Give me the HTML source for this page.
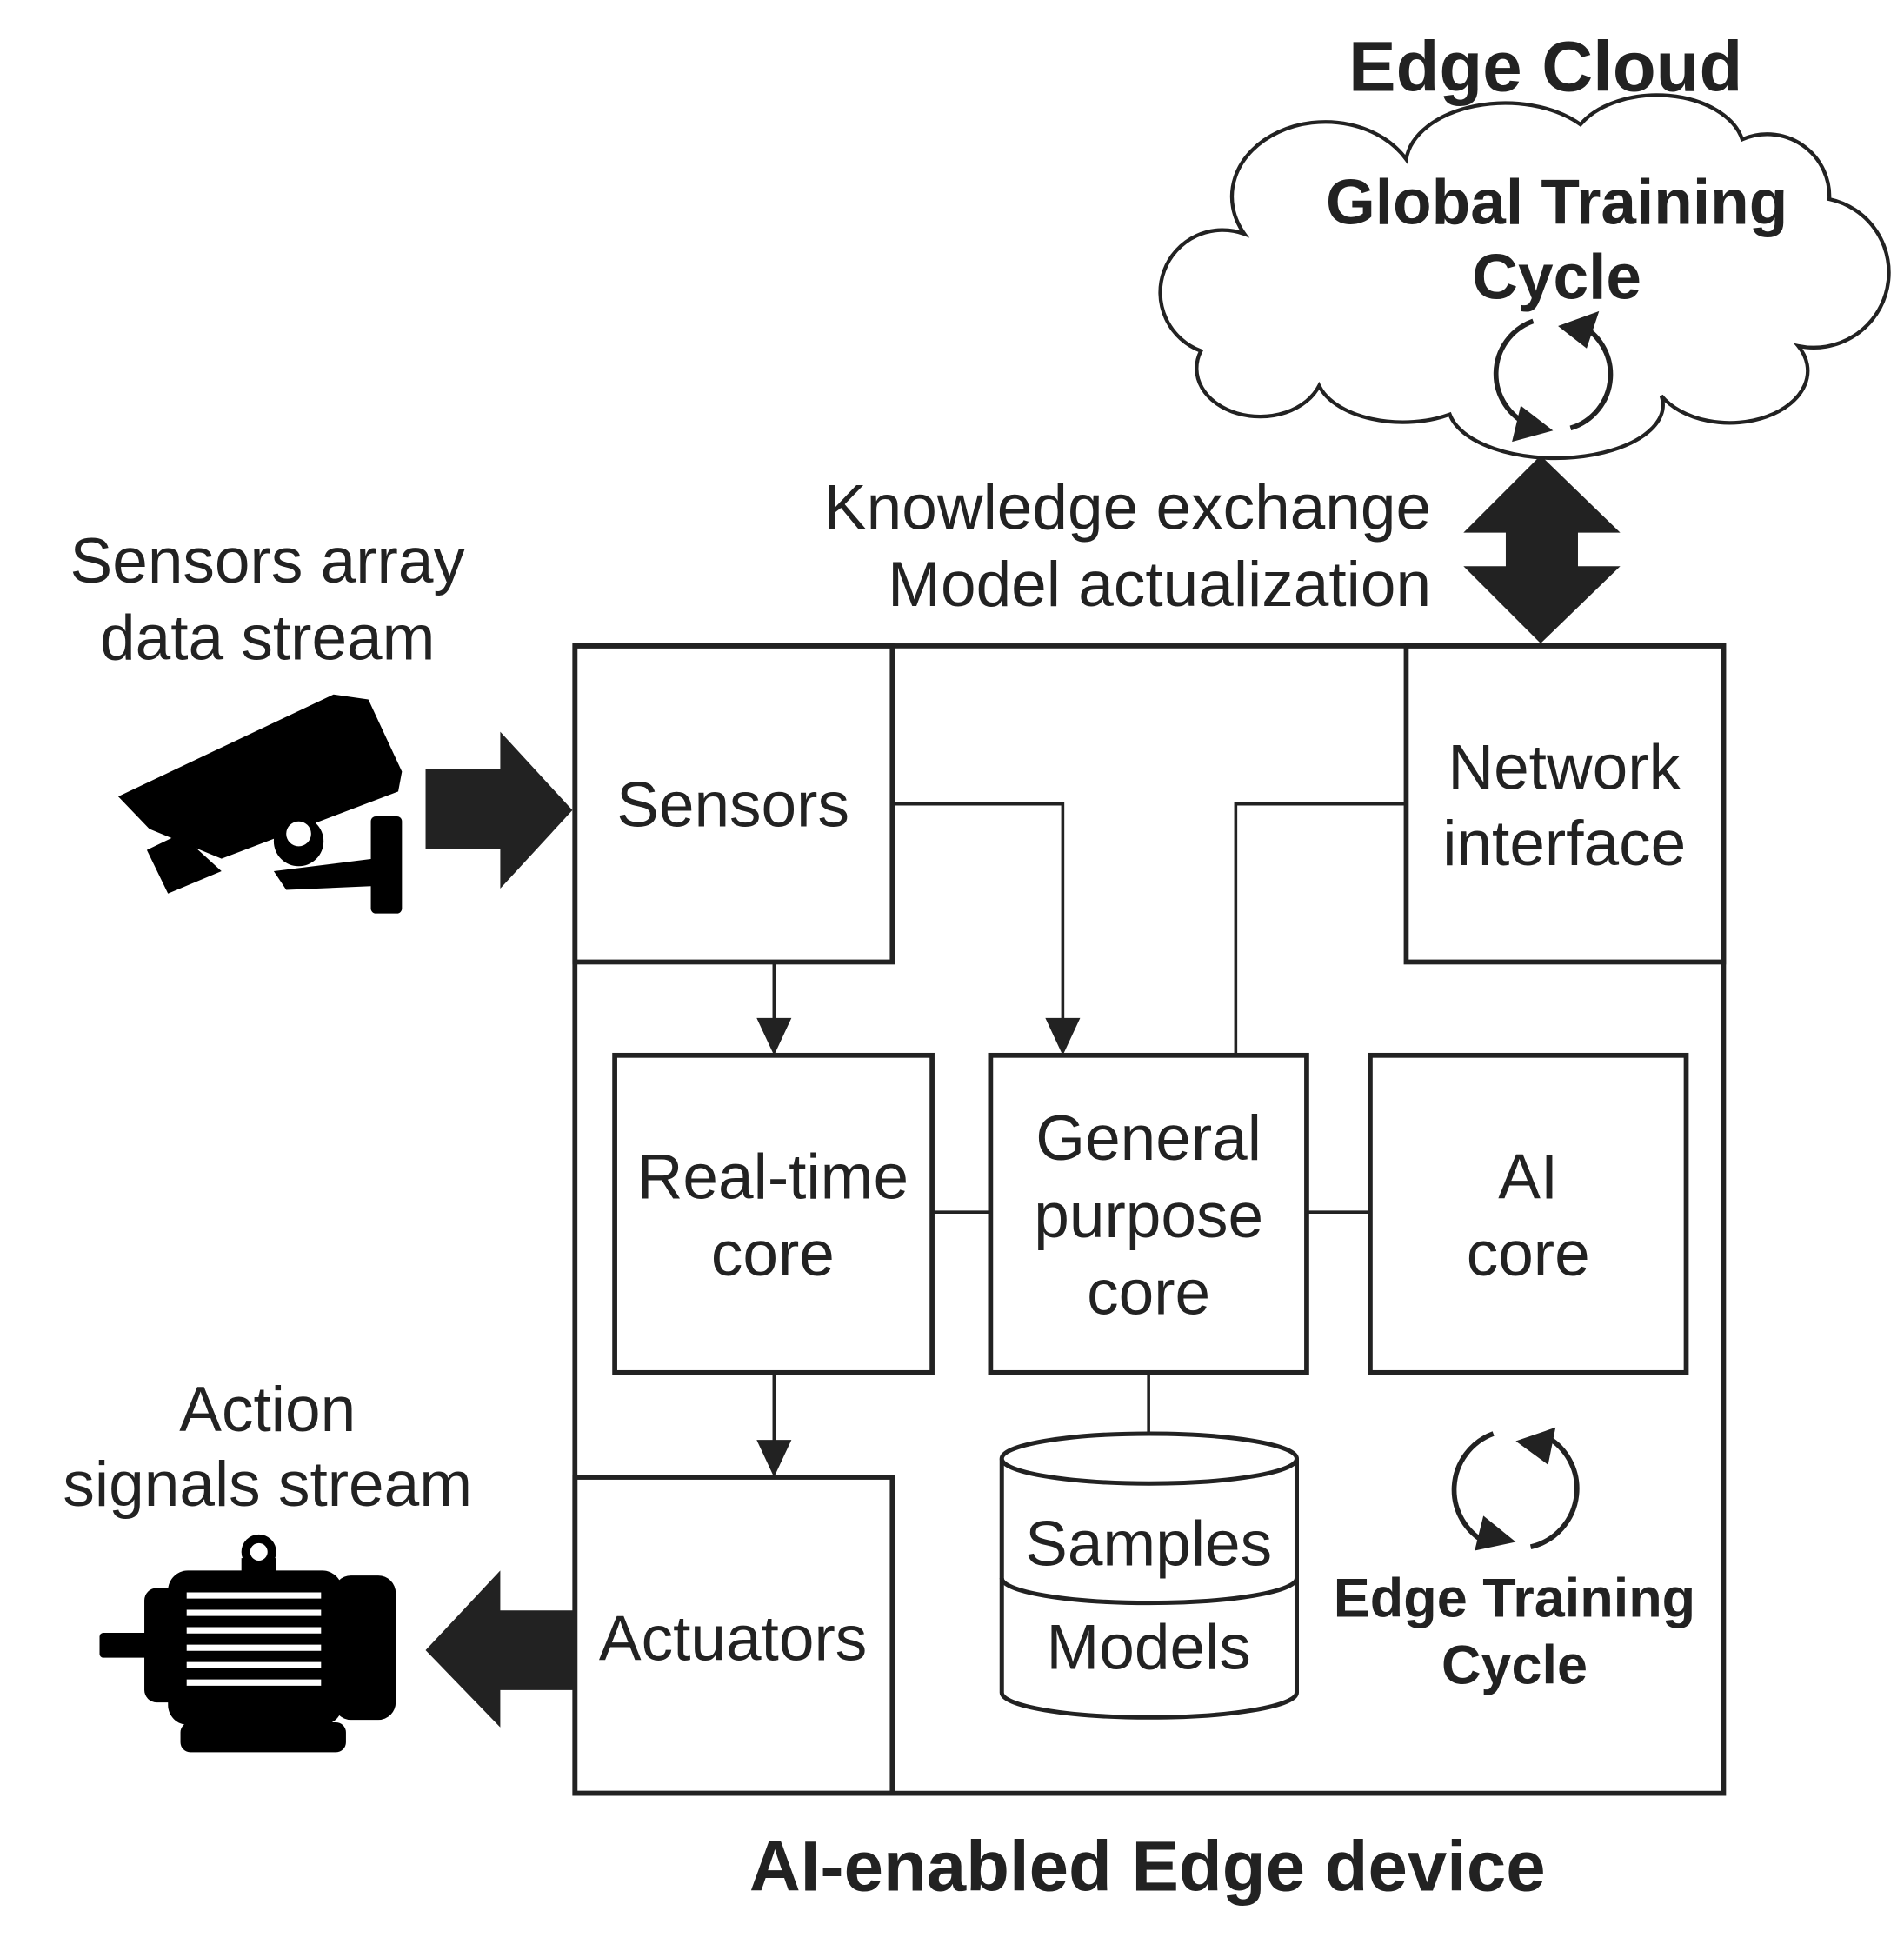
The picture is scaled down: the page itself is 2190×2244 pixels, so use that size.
<!DOCTYPE html>
<html><head><meta charset="utf-8"><style>
html,body{margin:0;padding:0;background:#fff}
svg{display:block}
text{font-family:"Liberation Sans",Arial,sans-serif;fill:#222}
.b{font-weight:bold}
</style></head><body>
<svg width="2190" height="2244" viewBox="0 0 1530 1567.7" xmlns="http://www.w3.org/2000/svg">
<g fill="none" stroke="#222" stroke-width="4">
<rect x="462" y="519" width="923" height="922"/>
<rect x="462" y="519" width="255" height="254"/>
<rect x="1130" y="519" width="255" height="254"/>
<rect x="494" y="848" width="255" height="255"/>
<rect x="796" y="848" width="254" height="255"/>
<rect x="1101" y="848" width="254" height="255"/>
<rect x="462" y="1187" width="255" height="254"/>
</g>
<g fill="none" stroke="#222" stroke-width="2.5">
<polyline points="717,646 854,646 854,820"/>
<line x1="622" y1="773" x2="622" y2="820"/>
<line x1="622" y1="1103" x2="622" y2="1159"/>
<polyline points="1130,646 993,646 993,848"/>
<line x1="749" y1="974" x2="796" y2="974"/>
<line x1="1050" y1="974" x2="1101" y2="974"/>
<line x1="923" y1="1103" x2="923" y2="1153"/>
</g>
<g fill="#222">
<polygon points="840,818 868,818 854,848"/>
<polygon points="608,818 636,818 622,848"/>
<polygon points="608,1157 636,1157 622,1187"/>
<polygon points="342,618 402,618 402,588 460,651 402,714 402,682 342,682"/>
<polygon points="462,1294 402,1294 402,1262 342,1326 402,1388 402,1358 462,1358"/>
<polygon points="1238,366 1302,428 1268,428 1268,455 1302,455 1238,517 1176,455 1210,455 1210,428 1176,428"/>
</g>
<g fill="#fff" stroke="#222" stroke-width="3.5">
<path d="M805,1172 L805,1360 A118.5,20 0 0 0 1042,1360 L1042,1172"/>
<ellipse cx="923.5" cy="1172" rx="118.5" ry="20"/>
<path d="M805,1268 A118.5,20 0 0 0 1042,1268" fill="none"/>
</g>
<path d="M1000,188 A75,60 0 0 1 1130,128 A80,50 0 0 1 1270,100 A70,45 0 0 1 1400,112 A50,50 0 0 1 1470,160 A60,60 0 0 1 1445,278 A60,40 0 0 1 1335,318 A85,42 0 0 1 1165,333 A70,40 0 0 1 1060,310 A50,38 0 0 1 965,282 A38,38 0 0 1 1000,188 Z" fill="#fff" stroke="#222" stroke-width="3"/>
<g fill="none" stroke="#222" stroke-width="4">
<path d="M1268,260 A45,45 0 0 1 1262,344"/>
<path d="M1230,342 A45,45 0 0 1 1232,258"/>
<path d="M1240,1153 A48,48 0 0 1 1230,1243"/>
<path d="M1195,1240 A48,48 0 0 1 1200,1152"/>
</g>
<g fill="#222">
<polygon points="1252,262 1285,250 1275,280"/>
<polygon points="1248,346 1215,355 1222,326"/>
<polygon points="1218,1158 1250,1147 1244,1177"/>
<polygon points="1218,1239 1185,1246 1192,1218"/>
</g>
<g fill="#000">
<polygon points="95,640 268,558 296,562 323,620 320,636 178,690 120,666"/>
<polygon points="118,683 145,670 178,700 135,718"/>
<circle cx="240" cy="676" r="20"/>
<path d="M220,700 L300,690 L300,712 L230,715 Z"/>
<rect x="298" y="656" width="25" height="78" rx="4"/>
</g>
<circle cx="240" cy="670" r="10" fill="#fff"/>
<g fill="#000">
<rect x="80" y="1312" width="40" height="20" rx="3"/>
<rect x="116" y="1276" width="40" height="92" rx="10"/>
<rect x="135" y="1262" width="140" height="124" rx="16"/>
<rect x="268" y="1266" width="50" height="116" rx="14"/>
<rect x="145" y="1384" width="133" height="24" rx="8"/>
<rect x="194" y="1252" width="28" height="14"/>
<circle cx="208" cy="1247" r="14"/>
</g>
<circle cx="208" cy="1247" r="7" fill="#fff"/>
<g stroke="#fff" stroke-width="5">
<line x1="150" y1="1282" x2="258" y2="1282"/>
<line x1="150" y1="1296" x2="258" y2="1296"/>
<line x1="150" y1="1310" x2="258" y2="1310"/>
<line x1="150" y1="1324" x2="258" y2="1324"/>
<line x1="150" y1="1338" x2="258" y2="1338"/>
<line x1="150" y1="1352" x2="258" y2="1352"/>
</g>
<g text-anchor="middle" font-size="51">
<text x="1242" y="73" class="b" font-size="57">Edge Cloud</text>
<text x="1251" y="180" class="b">Global Training</text>
<text x="1251" y="240" class="b">Cycle</text>
<text x="215" y="468">Sensors array</text>
<text x="215" y="530">data stream</text>
<text x="215" y="1150">Action</text>
<text x="215" y="1210">signals stream</text>
<text x="589" y="664">Sensors</text>
<text x="1257" y="634">Network</text>
<text x="1257" y="695">interface</text>
<text x="621" y="963">Real-time</text>
<text x="621" y="1025">core</text>
<text x="923" y="932">General</text>
<text x="923" y="994">purpose</text>
<text x="923" y="1056">core</text>
<text x="1228" y="963">AI</text>
<text x="1228" y="1025">core</text>
<text x="589" y="1334">Actuators</text>
<text x="923" y="1258">Samples</text>
<text x="923" y="1341">Models</text>
<text x="1217" y="1299" class="b" font-size="44">Edge Training</text>
<text x="1217" y="1353" class="b" font-size="44">Cycle</text>
<text x="922" y="1519" class="b" font-size="57">AI-enabled Edge device</text>
</g>
<g text-anchor="end" font-size="51">
<text x="1150" y="425">Knowledge exchange</text>
<text x="1150" y="487">Model actualization</text>
</g>
</svg>
</body></html>
